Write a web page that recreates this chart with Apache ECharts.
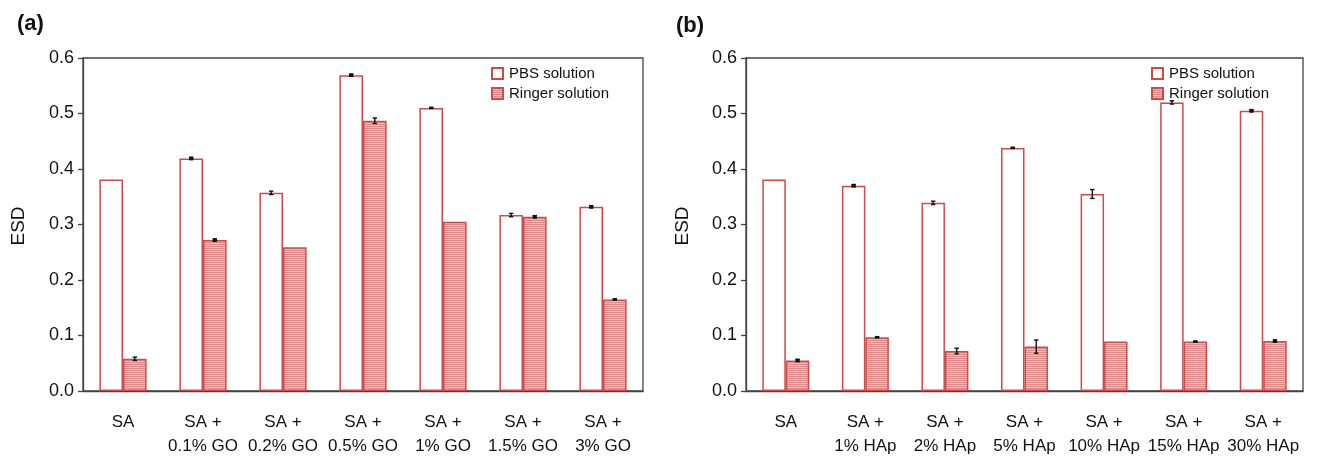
<!DOCTYPE html>
<html>
<head>
<meta charset="utf-8">
<script src="https://cdn.jsdelivr.net/npm/echarts@6/dist/echarts.min.js"></script>
<style>html,body{margin:0;padding:0;background:#fff;}#c{width:1317px;height:458px;}</style>
</head>
<body>
<div id="c"></div>
<script>
// ---- data ----
const categoriesA = ['SA', 'SA +\n0.1% GO', 'SA +\n0.2% GO', 'SA +\n0.5% GO', 'SA +\n1% GO', 'SA +\n1.5% GO', 'SA +\n3% GO'];
const pbsA        = [0.381, 0.419, 0.357, 0.569, 0.510, 0.317, 0.332];
const pbsErrA     = [0.000, 0.002, 0.003, 0.002, 0.001, 0.003, 0.002];
const ringerA     = [0.058, 0.272, 0.259, 0.487, 0.305, 0.314, 0.165];
const ringerErrA  = [0.003, 0.002, 0.000, 0.005, 0.000, 0.002, 0.001];

const categoriesB = ['SA', 'SA +\n1% HAp', 'SA +\n2% HAp', 'SA +\n5% HAp', 'SA +\n10% HAp', 'SA +\n15% HAp', 'SA +\n30% HAp'];
const pbsB        = [0.381, 0.370, 0.339, 0.438, 0.355, 0.520, 0.505];
const pbsErrB     = [0.000, 0.002, 0.003, 0.001, 0.008, 0.003, 0.002];
const ringerB     = [0.055, 0.097, 0.072, 0.080, 0.089, 0.089, 0.090];
const ringerErrB  = [0.002, 0.001, 0.005, 0.012, 0.000, 0.001, 0.002];

const seriesNames = ['PBS solution', 'Ringer solution'];
const yMin = 0, yMax = 0.6, yStep = 0.1;

// ---- styles ----
const FONT = 'Liberation Sans, Arial, Helvetica, sans-serif';
const RED = '#cf4a4a';
const AXIS = '#444';
const CAT_GAP = 0.41;

function makeHatch() {
  const cv = document.createElement('canvas');
  cv.width = 4; cv.height = 2;
  const g = cv.getContext('2d');
  g.fillStyle = 'rgb(240,186,186)'; g.fillRect(0, 0, 4, 2);
  g.fillStyle = 'rgb(222,138,138)'; g.fillRect(0, 0, 4, 1);
  return cv;
}
const hatch = { image: makeHatch(), repeat: 'repeat' };

function errData(vals, errs, side) {
  return vals.map((v, i) => [i, v, errs[i], side]);
}

function renderErr(params, api) {
  const idx = api.value(0), v = api.value(1), e = api.value(2), side = api.value(3);
  if (!(e > 0)) return null;
  const band = api.size([1, 0])[0];
  const bw = band * (1 - CAT_GAP) / 2;
  const c = api.coord([idx, v]);
  const x = c[0] + side * bw / 2;
  const yt = api.coord([idx, v + e])[1];
  const yb = api.coord([idx, v - e])[1];
  const cap = 2.2;
  const st = { stroke: '#111', lineWidth: 1.4 };
  const small = Math.abs(yb - yt) < 2.5;
  return {
    type: 'group',
    children: [
      { type: 'line', shape: { x1: x, y1: yt, x2: x, y2: yb }, style: st },
      { type: 'line', shape: { x1: x - cap, y1: yt, x2: x + cap, y2: yt }, style: st },
      { type: 'line', shape: { x1: x - cap, y1: yb, x2: x + cap, y2: yb }, style: st },
      { type: 'rect', shape: { x: x - 2, y: Math.min(yt, yb) - 0.6, width: 4, height: small ? Math.abs(yb - yt) + 1.2 : 0 }, style: { fill: small ? '#111' : 'none' } }
    ]
  };
}

function xAxisCfg(gi, cats) {
  return {
    type: 'category', gridIndex: gi, data: cats,
    axisLine: { show: true, lineStyle: { color: AXIS, width: 1.3 } },
    axisTick: { show: false },
    axisLabel: { color: '#111', fontFamily: FONT, fontSize: 17, lineHeight: 24, margin: 19, interval: 0 },
    splitLine: { show: false }
  };
}
function yAxisCfg(gi) {
  return {
    type: 'value', gridIndex: gi, min: yMin, max: yMax, interval: yStep,
    axisLine: { show: true, lineStyle: { color: AXIS, width: 1.3 } },
    axisTick: { show: true, inside: false, length: 5, lineStyle: { color: AXIS, width: 1.3 } },
    axisLabel: { color: '#111', fontFamily: FONT, fontSize: 18, margin: 9, formatter: v => v.toFixed(1) },
    splitLine: { show: false }
  };
}
function barSeries(name, gi, vals, filled) {
  return {
    type: 'bar', name: name, xAxisIndex: gi, yAxisIndex: gi, data: vals,
    barGap: '0%', barCategoryGap: (CAT_GAP * 100) + '%',
    itemStyle: { color: filled ? hatch : '#fff', borderColor: RED, borderWidth: 1.5 },
    emphasis: { disabled: true },
    animation: false
  };
}
function errSeries(gi, vals, errs, side) {
  return {
    type: 'custom', xAxisIndex: gi, yAxisIndex: gi, renderItem: renderErr,
    data: errData(vals, errs, side), z: 10, animation: false, silent: true
  };
}
function legendCfg(left) {
  return {
    left: left, top: 61, orient: 'vertical', itemWidth: 11, itemHeight: 11, itemGap: 5,
    icon: 'rect', data: seriesNames, selectedMode: false,
    textStyle: { color: '#111', fontFamily: FONT, fontSize: 15, padding: [0, 0, 0, 1] }
  };
}

const chart = echarts.init(document.getElementById('c'), null, { renderer: 'canvas' });
chart.setOption({
  animation: false,
  backgroundColor: '#fff',
  grid: [
    { left: 83, top: 58, width: 560, height: 336, show: true, borderColor: AXIS, borderWidth: 1.3, backgroundColor: 'transparent' },
    { left: 746, top: 58, width: 557, height: 336, show: true, borderColor: AXIS, borderWidth: 1.3, backgroundColor: 'transparent' }
  ],
  xAxis: [xAxisCfg(0, categoriesA), xAxisCfg(1, categoriesB)],
  yAxis: [yAxisCfg(0), yAxisCfg(1)],
  legend: [legendCfg(486), legendCfg(1146)],
  series: [
    barSeries(seriesNames[0], 0, pbsA, false),
    barSeries(seriesNames[1], 0, ringerA, true),
    errSeries(0, pbsA, pbsErrA, -1),
    errSeries(0, ringerA, ringerErrA, 1),
    barSeries(seriesNames[0], 1, pbsB, false),
    barSeries(seriesNames[1], 1, ringerB, true),
    errSeries(1, pbsB, pbsErrB, -1),
    errSeries(1, ringerB, ringerErrB, 1)
  ],
  graphic: [
    { type: 'text', left: 17, top: 13, style: { text: '(a)', font: 'bold 22px ' + FONT, fill: '#111' } },
    { type: 'text', left: 676, top: 15, style: { text: '(b)', font: 'bold 22px ' + FONT, fill: '#111' } },
    { type: 'text', x: 19, y: 226, rotation: Math.PI / 2, style: { text: 'ESD', font: '19px ' + FONT, fill: '#111', align: 'center', verticalAlign: 'middle' } },
    { type: 'text', x: 683, y: 226, rotation: Math.PI / 2, style: { text: 'ESD', font: '19px ' + FONT, fill: '#111', align: 'center', verticalAlign: 'middle' } }
  ]
});
</script>
</body>
</html>
